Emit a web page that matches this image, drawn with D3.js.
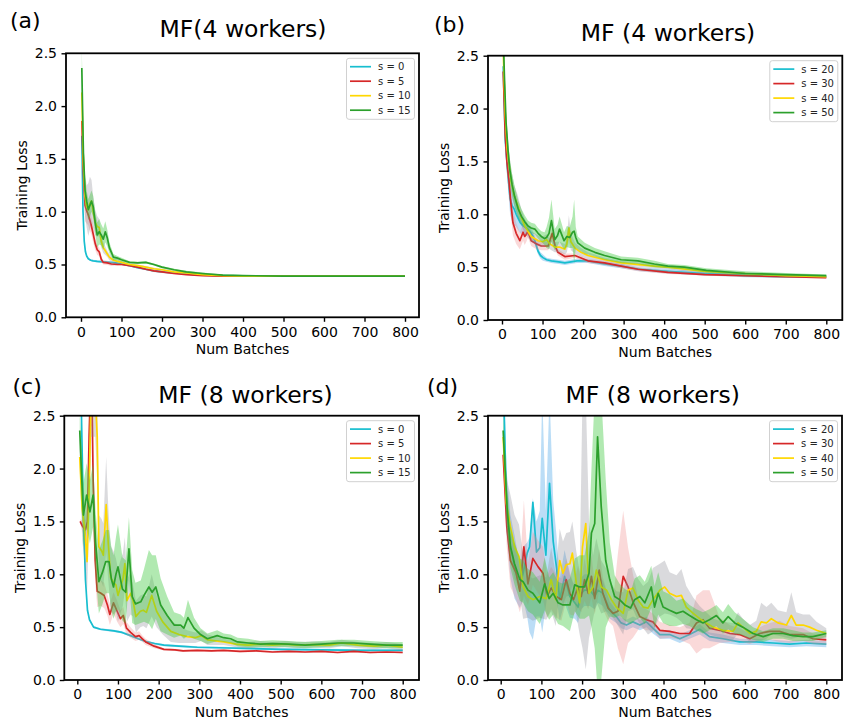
<!DOCTYPE html>
<html>
<head>
<meta charset="utf-8">
<script src="https://cdn.jsdelivr.net/npm/d3@7"></script>
<style>
  body { margin: 0; background: #fff; }
  svg text { font-family: "DejaVu Sans", sans-serif; }
</style>
</head>
<body>
<div id="chart"></div>
<script>
'use strict';
// each point: [batch, loss, spread] or [batch, loss, low, high]
const lossA0 = [[2,1.72,0.02],[5,1.0,0.03],[8,0.72,0.02],[11,0.62,0.01],[14,0.58,0.01],[18,0.555,0.01],[24,0.54,0.01],[30,0.535,0.01],[40,0.53,0.01],[55,0.525,0.01],[70,0.52,0.01],[85,0.515,0.01],[100,0.505,0.01],[120,0.49,0.01],[140,0.47,0.01],[160,0.455,0.01],[180,0.44,0.01],[200,0.43,0.01],[230,0.42,0.01],[260,0.41,0.005],[300,0.40,0.005],[350,0.395,0.005],[400,0.392,0.005],[500,0.392,0.005],[600,0.392,0.005],[700,0.392,0.005],[800,0.392,0.005]];
const lossA1 = [[2,1.86,0.05],[6,1.35,0.15],[10,1.06,0.15],[14,1.01,0.12],[18,0.97,0.1],[22,0.92,0.1],[26,0.86,0.08],[30,0.79,0.08],[35,0.70,0.06],[40,0.64,0.05],[45,0.62,0.04],[50,0.55,0.03],[55,0.52,0.02],[65,0.515,0.02],[75,0.505,0.02],[90,0.50,0.01],[100,0.50,0.01],[120,0.49,0.01],[140,0.475,0.01],[160,0.455,0.01],[180,0.44,0.01],[200,0.43,0.01],[230,0.415,0.01],[260,0.405,0.005],[300,0.395,0.005],[350,0.39,0.005],[400,0.39,0.005],[500,0.39,0.005],[600,0.39,0.005],[700,0.39,0.005],[800,0.39,0.005]];
const lossA2 = [[2,2.13,0.05],[6,1.45,0.2],[10,1.15,0.2],[14,1.05,0.2],[18,1.02,0.25],[22,1.08,0.25],[26,1.10,0.2],[30,1.00,0.15],[35,0.90,0.12],[40,0.86,0.1],[45,0.85,0.08],[50,0.72,0.06],[55,0.66,0.05],[60,0.63,0.04],[65,0.60,0.03],[70,0.57,0.03],[80,0.54,0.02],[90,0.53,0.02],[100,0.52,0.01],[120,0.50,0.01],[140,0.49,0.01],[160,0.475,0.01],[180,0.46,0.01],[200,0.45,0.01],[230,0.43,0.01],[260,0.42,0.01],[300,0.405,0.005],[350,0.395,0.005],[400,0.39,0.005],[500,0.39,0.005],[600,0.39,0.005],[700,0.39,0.005],[800,0.39,0.005]];
const lossA3 = [[2,2.36,0.2],[6,1.55,0.15],[10,1.20,0.12],[14,1.10,0.1],[18,1.02,0.1],[22,1.06,0.1],[26,1.10,0.1],[30,1.05,0.1],[35,0.90,0.1],[40,0.78,0.12],[45,0.81,0.12],[50,0.78,0.1],[55,0.74,0.1],[60,0.81,0.1],[65,0.75,0.08],[70,0.66,0.05],[80,0.57,0.03],[90,0.56,0.02],[100,0.545,0.02],[120,0.52,0.01],[140,0.515,0.01],[160,0.52,0.01],[180,0.50,0.01],[200,0.475,0.01],[230,0.45,0.01],[260,0.43,0.01],[300,0.415,0.01],[350,0.40,0.005],[400,0.395,0.005],[500,0.39,0.005],[600,0.39,0.005],[700,0.39,0.005],[800,0.39,0.005]];

const lossB0 = [[3,2.40,0.05],[8,1.70,0.1],[15,1.36,0.12],[20,1.15,0.15],[25,1.08,0.15],[30,1.05,0.15],[35,1.00,0.12],[45,0.92,0.1],[52,0.89,0.08],[60,0.87,0.06],[68,0.84,0.05],[75,0.80,0.05],[81,0.75,0.04],[89,0.65,0.03],[95,0.61,0.03],[101,0.59,0.03],[110,0.57,0.02],[122,0.56,0.02],[140,0.55,0.02],[155,0.54,0.02],[170,0.55,0.02],[185,0.56,0.02],[212,0.56,0.02],[253,0.53,0.02],[294,0.51,0.02],[340,0.48,0.02],[409,0.46,0.02],[500,0.44,0.02],[600,0.42,0.015],[700,0.41,0.01],[800,0.41,0.01]];
const lossB1 = [[3,2.35,0.05],[8,1.75,0.1],[12,1.50,0.12],[17,1.33,0.12],[22,1.10,0.12],[27,0.92,0.12],[35,0.82,0.1],[44,0.75,0.08],[52,0.83,0.08],[56,0.79,0.08],[60,0.81,0.07],[64,0.84,0.06],[72,0.75,0.05],[85,0.72,0.05],[97,0.70,0.04],[114,0.70,0.04],[124,0.82,0.06],[131,0.70,0.04],[138,0.64,0.03],[155,0.60,0.03],[180,0.61,0.02],[212,0.56,0.02],[253,0.54,0.02],[294,0.51,0.02],[335,0.48,0.02],[409,0.45,0.015],[500,0.43,0.01],[600,0.42,0.01],[700,0.41,0.01],[800,0.40,0.01]];
const lossB2 = [[3,2.55,0.05],[8,1.95,0.1],[13,1.61,0.12],[18,1.45,0.12],[23,1.30,0.12],[30,1.18,0.1],[39,1.08,0.1],[47,0.98,0.08],[56,0.89,0.07],[64,0.84,0.06],[72,0.79,0.05],[89,0.75,0.05],[100,0.74,0.05],[110,0.76,0.05],[118,0.72,0.05],[130,0.69,0.05],[142,0.69,0.05],[155,0.67,0.05],[160,0.72,0.08],[165,0.87,0.12],[170,0.74,0.08],[180,0.68,0.05],[195,0.64,0.04],[212,0.61,0.03],[253,0.57,0.02],[294,0.54,0.02],[376,0.51,0.02],[409,0.50,0.02],[500,0.46,0.02],[600,0.44,0.015],[700,0.42,0.01],[800,0.41,0.01]];
const lossB3 = [[3,2.7,0.1],[6,2.3,0.1],[10,1.87,0.1],[15,1.60,0.1],[19,1.43,0.1],[25,1.28,0.1],[31,1.17,0.1],[40,1.05,0.08],[48,0.98,0.07],[56,0.93,0.06],[64,0.89,0.05],[72,0.87,0.05],[81,0.86,0.05],[89,0.82,0.05],[97,0.79,0.05],[105,0.77,0.06],[110,0.78,0.1],[116,0.82,0.15],[122,0.94,0.2],[130,0.76,0.1],[137,0.80,0.1],[142,0.86,0.12],[148,0.80,0.1],[153,0.75,0.08],[160,0.79,0.1],[167,0.78,0.1],[174,0.83,0.15],[178,0.84,0.3],[182,0.78,0.1],[187,0.73,0.06],[204,0.68,0.05],[229,0.64,0.04],[253,0.61,0.04],[294,0.57,0.03],[335,0.56,0.03],[376,0.53,0.03],[409,0.51,0.02],[450,0.50,0.02],[504,0.47,0.02],[600,0.44,0.02],[700,0.43,0.015],[800,0.42,0.01]];

const lossC0 = [[5,3.3,0.02],[10,2.55,0.02],[15,1.55,0.02],[20,0.95,0.02],[25,0.66,0.02],[30,0.57,0.01],[40,0.50,0.01],[57,0.48,0.01],[90,0.465,0.01],[110,0.45,0.01],[131,0.42,0.01],[150,0.39,0.01],[172,0.36,0.01],[190,0.345,0.01],[213,0.33,0.01],[250,0.32,0.01],[295,0.31,0.01],[350,0.305,0.01],[410,0.30,0.01],[500,0.29,0.01],[600,0.285,0.01],[700,0.28,0.01],[800,0.28,0.01]];
const lossC1 = [[7,1.50,0.02],[12,1.46,0.05],[20,1.42,0.1],[25,1.50,0.2],[29,2.3,0.3],[32,2.7,0.3],[36,2.7,0.3],[39,1.88,0.25],[44,1.13,0.2],[49,0.84,0.15],[58,0.82,0.12],[66,0.80,0.12],[74,0.71,0.1],[80,0.62,0.1],[89,0.73,0.1],[98,0.65,0.1],[106,0.58,0.08],[113,0.61,0.08],[121,0.49,0.06],[131,0.45,0.05],[143,0.41,0.04],[152,0.42,0.04],[160,0.39,0.03],[168,0.36,0.03],[189,0.32,0.02],[213,0.29,0.01],[240,0.285,0.01],[260,0.275,0.01],[295,0.28,0.01],[330,0.275,0.01],[360,0.28,0.01],[400,0.27,0.01],[440,0.275,0.01],[480,0.265,0.01],[520,0.27,0.01],[560,0.265,0.01],[600,0.27,0.01],[640,0.26,0.01],[680,0.27,0.01],[720,0.26,0.01],[760,0.265,0.01],[800,0.26,0.01]];
const lossC2 = [[6,2.11,0.1],[12,1.62,0.3],[19,1.39,0.3],[24,1.12,0.3],[29,1.8,0.35],[34,2.7,0.4],[44,2.7,0.4],[49,2.3,0.4],[53,1.26,0.3],[60,1.22,0.3],[64,1.18,0.3],[71,1.66,0.45],[76,1.30,0.35],[82,0.97,0.3],[89,0.92,0.3],[95,0.90,0.25],[100,0.80,0.25],[106,0.88,0.25],[112,0.95,0.25],[117,1.10,0.25],[122,0.75,0.2],[131,0.82,0.2],[137,0.75,0.15],[144,0.60,0.15],[155,0.65,0.15],[162,0.66,0.15],[170,0.64,0.15],[183,0.80,0.2],[195,0.65,0.15],[210,0.55,0.12],[230,0.46,0.1],[250,0.43,0.08],[270,0.41,0.06],[290,0.40,0.05],[305,0.42,0.05],[320,0.38,0.05],[340,0.37,0.04],[360,0.36,0.03],[390,0.34,0.03],[420,0.33,0.03],[450,0.34,0.03],[480,0.33,0.03],[510,0.34,0.03],[540,0.33,0.03],[580,0.335,0.03],[620,0.33,0.03],[650,0.35,0.03],[690,0.33,0.03],[730,0.32,0.03],[760,0.33,0.03],[800,0.31,0.03]];
const lossC3 = [[6,2.36,0.15],[11,1.90,0.3],[15,1.56,0.3],[23,1.75,0.3],[31,1.59,0.3],[39,1.75,0.3],[45,1.30,0.3],[53,0.93,0.3],[62,1.02,0.3],[70,1.12,0.3],[78,1.12,0.3],[84,0.95,0.3],[89,0.88,0.3],[95,1.00,0.35],[100,1.07,0.4],[111,0.86,0.3],[119,0.83,0.3],[127,1.24,0.3],[135,0.79,0.25],[143,0.72,0.2],[156,0.74,0.2],[164,0.80,0.25],[176,0.88,0.35],[184,0.83,0.35],[193,0.88,0.3],[205,0.71,0.25],[221,0.61,0.18],[238,0.52,0.12],[254,0.52,0.1],[262,0.49,0.1],[272,0.59,0.17],[287,0.49,0.1],[303,0.43,0.06],[320,0.39,0.05],[344,0.42,0.05],[360,0.40,0.04],[377,0.39,0.04],[394,0.36,0.04],[420,0.35,0.04],[450,0.34,0.03],[480,0.345,0.03],[520,0.34,0.03],[560,0.33,0.03],[600,0.34,0.03],[640,0.35,0.03],[680,0.35,0.03],[720,0.34,0.03],[760,0.33,0.03],[800,0.33,0.03]];

const lossD0 = [[6,2.9,0.3],[10,2.3,0.3],[14,1.70,0.3],[24,1.26,0.3],[34,1.07,0.3],[47,0.88,0.2],[55,1.01,0.25],[65,1.20,0.6,1.3],[71,1.26,0.45,1.35],[79,1.68,0.38,1.72],[88,1.21,0.6,1.5],[96,1.25,0.6,1.6],[102,1.53,0.45,2.7],[111,1.18,0.7,1.6],[120,1.86,0.95,2.7],[129,1.31,0.8,1.7],[137,1.07,0.3],[145,0.76,0.2],[157,0.98,0.25],[170,0.79,0.2],[182,0.73,0.15],[190,0.69,0.15],[198,0.82,0.15],[206,0.85,0.15],[219,0.85,0.15],[231,0.79,0.12],[239,0.85,0.12],[251,0.82,0.12],[268,0.66,0.08],[284,0.60,0.06],[296,0.54,0.05],[309,0.52,0.05],[325,0.55,0.05],[342,0.52,0.05],[358,0.55,0.05],[374,0.49,0.05],[391,0.43,0.04],[415,0.43,0.04],[440,0.39,0.04],[464,0.43,0.04],[489,0.48,0.05],[513,0.41,0.04],[546,0.39,0.04],[587,0.36,0.03],[628,0.36,0.03],[669,0.35,0.03],[710,0.34,0.03],[751,0.35,0.03],[800,0.34,0.03]];
const lossD1 = [[6,2.13,0.1],[15,1.45,0.2],[24,1.13,0.25],[38,1.01,0.25],[47,0.84,0.2],[57,1.26,0.8,1.7],[67,0.91,0.2],[79,1.15,0.25],[92,1.07,0.25],[104,1.01,0.25],[114,0.79,0.2],[124,0.87,0.2],[137,0.79,0.2],[149,0.76,0.2],[161,0.95,0.2],[170,0.82,0.2],[179,0.76,0.15],[190,0.88,0.2],[198,0.79,0.15],[206,0.95,0.2],[215,0.82,0.15],[223,0.98,0.2],[231,0.77,0.15],[242,1.04,0.2],[251,0.82,0.15],[264,0.68,0.12],[276,0.63,0.12],[288,0.65,0.3,1.2],[301,0.98,0.15,1.6],[313,0.88,0.35,1.25],[325,0.74,0.4,1.0],[342,0.60,0.1],[358,0.57,0.1],[374,0.55,0.08],[391,0.47,0.08],[415,0.46,0.06],[440,0.44,0.06],[464,0.44,0.1],[481,0.54,0.25,0.8],[497,0.57,0.3,0.85],[513,0.49,0.3,0.85],[538,0.47,0.12],[563,0.44,0.08],[587,0.43,0.06],[612,0.39,0.05],[636,0.44,0.06],[661,0.46,0.08],[685,0.46,0.1],[710,0.43,0.08],[743,0.43,0.06],[767,0.39,0.05],[800,0.38,0.05]];
const lossD2 = [[6,2.3,0.1],[14,1.67,0.25],[24,1.45,0.3],[34,1.26,0.3],[45,1.17,0.3],[55,0.88,0.3],[67,0.79,0.2],[79,0.76,0.2],[96,0.79,0.2],[112,0.77,0.2],[124,0.95,0.3],[135,0.76,0.25],[145,1.13,0.3],[153,1.01,0.3],[161,1.09,0.3],[170,1.10,0.3],[176,1.20,0.3],[186,0.91,0.3],[194,0.73,0.3],[201,1.26,0.3,2.7],[209,1.48,0.1,2.7],[217,0.82,0.4,1.5],[227,0.88,0.3],[235,1.04,0.3],[247,0.88,0.25],[260,0.85,0.2],[272,0.76,0.15],[284,0.69,0.15],[301,0.63,0.2],[313,0.85,0.2],[325,0.87,0.2],[337,0.76,0.2],[350,0.69,0.2],[362,0.68,0.25],[374,0.76,0.3],[391,0.85,0.25],[403,0.88,0.25],[415,0.82,0.2],[432,0.79,0.2],[444,0.80,0.25],[456,0.69,0.2],[473,0.63,0.15],[489,0.58,0.12],[505,0.54,0.1],[522,0.50,0.08],[546,0.47,0.08],[571,0.46,0.08],[583,0.54,0.1],[595,0.50,0.08],[612,0.44,0.08],[628,0.46,0.1],[640,0.55,0.18],[653,0.54,0.15],[665,0.58,0.15],[681,0.54,0.12],[702,0.52,0.12],[714,0.61,0.22],[726,0.52,0.12],[743,0.52,0.1],[759,0.50,0.12],[776,0.47,0.08],[800,0.44,0.05]];
const lossD3 = [[6,2.36,0.15],[16,1.61,0.2],[24,1.26,0.2],[34,1.10,0.2],[47,0.95,0.2],[55,0.93,0.2],[67,0.85,0.2],[79,0.82,0.2],[96,0.73,0.2],[108,0.91,0.25],[119,0.77,0.2],[129,0.82,0.2],[141,0.73,0.2],[153,0.71,0.2],[170,0.71,0.25],[182,0.90,0.25],[194,0.88,0.3],[206,0.88,0.3],[217,1.01,0.4],[223,1.39,0.5,2.0],[231,1.48,0.3,2.7],[238,2.30,-0.1,2.7],[247,1.64,0.0,2.7],[258,1.13,0.5,1.9],[268,0.95,0.6,1.3],[280,0.79,0.2],[292,0.76,0.15],[305,0.71,0.15],[319,0.68,0.15],[329,0.76,0.2],[342,0.79,0.2],[354,0.73,0.2],[370,0.88,0.2],[378,0.69,0.2],[387,0.82,0.2],[399,0.69,0.15],[415,0.66,0.15],[432,0.63,0.12],[448,0.65,0.12],[464,0.61,0.1],[481,0.57,0.1],[497,0.54,0.1],[513,0.57,0.1],[530,0.61,0.1],[546,0.54,0.1],[559,0.60,0.12],[575,0.54,0.1],[595,0.50,0.08],[620,0.44,0.06],[645,0.41,0.05],[669,0.44,0.05],[694,0.44,0.05],[718,0.42,0.05],[743,0.41,0.04],[767,0.41,0.04],[800,0.44,0.03]];

const batchTicks = [0, 100, 200, 300, 400, 500, 600, 700, 800];
const lossTicks = [0, 0.5, 1.0, 1.5, 2.0, 2.5];
const stalenessLow = ["s = 0", "s = 5", "s = 10", "s = 15"];
const stalenessHigh = ["s = 20", "s = 30", "s = 40", "s = 50"];

const lineColors = ["#17becf", "#d62728", "#ffd700", "#2ca02c"];
const bandColors = ["#1f8fe0", "#f08080", "#8c8c96", "#3cc83c"];
const bandOpacity = [0.3, 0.3, 0.32, 0.4];

const panels = [
  { letter: "(a)", title: "MF(4 workers)", names: stalenessLow, series: [lossA0, lossA1, lossA2, lossA3],
    left: 66, right: 419, top: 53.3, bottom: 317.3, x0: 81, x800: 405,
    titleX: 243, titleY: 37, letterX: 10, letterY: 28 },
  { letter: "(b)", title: "MF (4 workers)", names: stalenessHigh, series: [lossB0, lossB1, lossB2, lossB3],
    left: 488, right: 842.3, top: 55.7, bottom: 320, x0: 502, x800: 826.3,
    titleX: 668, titleY: 41, letterX: 434, letterY: 32 },
  { letter: "(c)", title: "MF (8 workers)", names: stalenessLow, series: [lossC0, lossC1, lossC2, lossC3],
    left: 64.3, right: 419, top: 415.7, bottom: 680, x0: 77.3, x800: 402.7,
    titleX: 245.5, titleY: 403, letterX: 12.5, letterY: 394 },
  { letter: "(d)", title: "MF (8 workers)", names: stalenessHigh, series: [lossD0, lossD1, lossD2, lossD3],
    left: 488, right: 842, top: 415.7, bottom: 680, x0: 500.7, x800: 826.3,
    titleX: 652.7, titleY: 403, letterX: 427, letterY: 394 }
];

function bandLow(d) { return d.length > 3 ? d[2] : d[1] - d[2]; }
function bandHigh(d) { return d.length > 3 ? d[3] : d[1] + d[2]; }

function drawPanel(svg, p, idx) {
  let x = d3.scaleLinear().domain([0, 800]).range([p.x0, p.x800]);
  let y = d3.scaleLinear().domain([0, 2.5]).range([p.bottom, p.top]);

  let clipId = "clip-" + idx;
  svg.append("clipPath")
    .attr("id", clipId)
    .append("rect")
    .attr("x", p.left)
    .attr("y", p.top)
    .attr("width", p.right - p.left)
    .attr("height", p.bottom - p.top);

  let plot = svg.append("g").attr("clip-path", "url(#" + clipId + ")");

  let area = d3.area()
    .x(d => x(d[0]))
    .y0(d => y(bandLow(d)))
    .y1(d => y(bandHigh(d)));
  let line = d3.line()
    .x(d => x(d[0]))
    .y(d => y(d[1]));

  p.series.forEach(function (s, i) {
    plot.append("path")
      .datum(s)
      .attr("d", area)
      .attr("fill", bandColors[i])
      .attr("fill-opacity", bandOpacity[i])
      .attr("stroke", "none");
    plot.append("path")
      .datum(s)
      .attr("d", line)
      .attr("fill", "none")
      .attr("stroke", lineColors[i])
      .attr("stroke-width", 1.7)
      .attr("stroke-linejoin", "round");
  });

  // axes
  let xAxis = svg.append("g")
    .attr("transform", "translate(0," + p.bottom + ")")
    .call(d3.axisBottom(x).tickValues(batchTicks).tickSize(4.5).tickPadding(5));
  let yAxis = svg.append("g")
    .attr("transform", "translate(" + p.left + ",0)")
    .call(d3.axisLeft(y).tickValues(lossTicks).tickSize(4.5).tickPadding(4.5).tickFormat(d3.format(".1f")));
  [xAxis, yAxis].forEach(function (a) {
    a.select(".domain").remove();
    a.attr("font-size", 14).attr("font-family", "DejaVu Sans, sans-serif");
    a.selectAll(".tick line").attr("stroke", "#000").attr("stroke-width", 1.4);
    a.selectAll(".tick text").attr("fill", "#000");
  });

  svg.append("rect")
    .attr("x", p.left)
    .attr("y", p.top)
    .attr("width", p.right - p.left)
    .attr("height", p.bottom - p.top)
    .attr("fill", "none")
    .attr("stroke", "#000")
    .attr("stroke-width", 1.8);

  svg.append("text")
    .attr("x", (p.left + p.right) / 2)
    .attr("y", p.bottom + 36.5)
    .attr("text-anchor", "middle")
    .attr("font-size", 14)
    .text("Num Batches");

  svg.append("text")
    .attr("transform", "translate(" + (p.left - 39.5) + "," + ((p.top + p.bottom) / 2) + ") rotate(-90)")
    .attr("text-anchor", "middle")
    .attr("font-size", 14)
    .text("Training Loss");

  svg.append("text")
    .attr("x", p.titleX)
    .attr("y", p.titleY)
    .attr("text-anchor", "middle")
    .attr("font-size", 23.5)
    .text(p.title);

  svg.append("text")
    .attr("x", p.letterX)
    .attr("y", p.letterY)
    .attr("font-size", 22)
    .text(p.letter);

  // legend
  let boxW = 68, boxH = 61;
  let lx = p.right - 4.5 - boxW, ly = p.top + 5;
  let legend = svg.append("g").attr("transform", "translate(" + lx + "," + ly + ")");
  legend.append("rect")
    .attr("width", boxW)
    .attr("height", boxH)
    .attr("rx", 2.5)
    .attr("fill", "#fff")
    .attr("fill-opacity", 0.8)
    .attr("stroke", "#cccccc")
    .attr("stroke-width", 0.9);
  p.names.forEach(function (name, i) {
    let ry = 8.4 + i * 14.5;
    legend.append("line")
      .attr("x1", 3.5)
      .attr("x2", 24.5)
      .attr("y1", ry)
      .attr("y2", ry)
      .attr("stroke", lineColors[i])
      .attr("stroke-width", 1.7);
    legend.append("text")
      .attr("x", 31.5)
      .attr("y", ry + 3.6)
      .attr("font-size", 10)
      .attr("fill", "#262626")
      .text(name);
  });
}

let svg = d3.select("#chart").append("svg")
  .attr("width", 846)
  .attr("height", 725);
svg.append("rect").attr("width", 846).attr("height", 725).attr("fill", "#fff");

panels.forEach(function (p, i) {
  drawPanel(svg, p, i);
});
</script>
</body>
</html>
